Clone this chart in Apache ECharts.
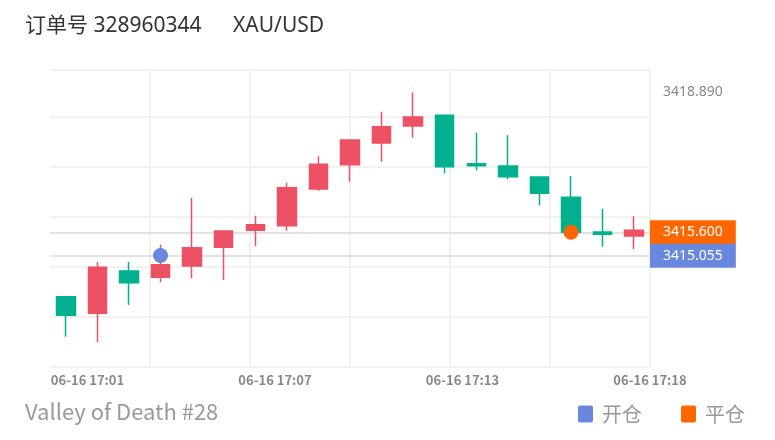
<!DOCTYPE html>
<html><head><meta charset="utf-8">
<script src="https://cdn.jsdelivr.net/npm/echarts/dist/echarts.min.js"></script>
<style>html,body{margin:0;padding:0;background:#fff}#c{width:775px;height:440px}</style>
</head><body><div id="c"></div>
<script>
// ---- data ----
const candleTimes = ['17:00','17:01','17:02','17:03','17:04','17:05','17:06','17:07','17:08','17:09','17:10','17:11','17:12','17:13','17:14','17:15','17:16','17:17','17:18'];
const opens  = [3414.085,3413.694,3414.689,3414.541,3414.807,3415.247,3415.647,3415.755,3416.619,3417.191,3417.701,3418.101,3418.353,3417.214,3417.160,3416.901,3416.424,3415.607,3415.513];
const closes = [3413.647,3414.776,3414.414,3414.838,3415.238,3415.631,3415.779,3416.649,3417.200,3417.772,3418.085,3418.313,3417.144,3417.167,3416.908,3416.518,3415.600,3415.553,3415.647];
const lows   = [3413.144,3413.012,3413.889,3414.424,3414.518,3414.478,3415.278,3415.638,3416.579,3416.791,3417.261,3417.826,3416.988,3417.059,3416.847,3416.235,3415.590,3415.261,3415.200];
const highs  = [3414.090,3414.901,3414.901,3415.308,3416.414,3415.640,3415.991,3416.767,3417.388,3417.780,3418.438,3418.890,3418.370,3417.944,3417.882,3416.910,3416.925,3416.148,3415.976];
const xTickLabels = ['','06-16 17:01','','','','','06-16 17:07','','','','','06-16 17:13','','','','','06-16 17:18'];
const openTrade  = { time: '17:03', price: 3415.055 };
const closeTrade = { time: '17:16', price: 3415.600 };
const orderTitle = '订单号 328960344';
const symbolName = 'XAU/USD';
const footerText = 'Valley of Death #28';
const legendNames = ['开仓', '平仓'];
const yMin = 3412.431, yMax = 3419.419;

// ---- styles ----
const UP = '#ec5263', DOWN = '#00b08e', BLUE = '#6a87df', ORANGE = '#ff6600';
const FONT_CJK = '"Noto Sans CJK SC", "Noto Sans", sans-serif';
const FONT_LAT = '"Noto Sans", "Noto Sans CJK SC", sans-serif';
const GRID_C = '#f1f1f1';
const CLEAR = 'rgba(255,255,255,0)';
const maxHigh = Math.max(...highs);
const ICON = 'path://M2,0 L13,0 Q15,0 15,2 L15,15 Q15,17 13,17 L2,17 Q0,17 0,15 L0,2 Q0,0 2,0 Z';

const chart = echarts.init(document.getElementById('c'), null, {renderer: 'canvas'});
const candleData = candleTimes.map((t, i) => [opens[i], closes[i], lows[i], highs[i]]);

const priceLabel = (bg, value, color) => ({
  show: true, position: 'end', distance: 0,
  formatter: () => value.toFixed(3),
  color: color || '#fff', fontSize: 14, fontFamily: FONT_LAT, lineHeight: 15,
  padding: [5, 13, 4, 13], backgroundColor: bg
});

chart.setOption({
  animation: false,
  backgroundColor: '#fff',
  textStyle: { fontFamily: FONT_CJK },
  title: [
    { text: orderTitle, left: 25, top: 16, padding: 0, textStyle: { fontSize: 21, color: '#333', fontWeight: 'normal', fontFamily: FONT_LAT } },
    { text: symbolName, left: 233, top: 16, padding: 0, textStyle: { fontSize: 21, color: '#333', fontWeight: 'normal', fontFamily: FONT_LAT } },
    { text: footerText, left: 25, top: 401, padding: 0, textStyle: { fontSize: 22, color: '#999', fontWeight: 'normal', fontFamily: FONT_CJK } }
  ],
  legend: {
    data: legendNames.map(n => ({ name: n, icon: ICON })), right: 30, top: 404,
    itemWidth: 15, itemHeight: 17, itemGap: 39, padding: 0,
    textStyle: { fontSize: 20, color: '#999', fontFamily: FONT_CJK, padding: [0, 0, 0, 4] }
  },
  grid: { left: 50, right: 125, top: 70, bottom: 73 },
  xAxis: [
    { type: 'category', data: candleTimes, boundaryGap: true,
      axisLine: { show: false, onZero: false }, axisTick: { show: false }, axisLabel: { show: false }, splitLine: { show: false } },
    { type: 'value', min: 0, max: 6, interval: 1,
      axisLine: { show: false, onZero: false }, axisTick: { show: false }, axisLabel: { show: false },
      splitLine: { show: true, lineStyle: { color: [CLEAR, GRID_C, GRID_C, GRID_C, GRID_C, GRID_C, GRID_C], width: 2 } } },
    { type: 'category', data: xTickLabels, boundaryGap: false, position: 'bottom',
      axisLine: { show: false, onZero: false }, axisTick: { show: false }, splitLine: { show: false },
      axisLabel: { show: true, interval: 0, margin: 7, color: '#888', fontSize: 13, fontWeight: 'bold', fontFamily: FONT_CJK } }
  ],
  yAxis: [
    { type: 'value', min: yMin, max: yMax, position: 'right',
      axisLine: { show: false }, axisTick: { show: false }, axisLabel: { show: false }, splitLine: { show: false } },
    { type: 'value', min: 0, max: 5.94, interval: 1, position: 'left',
      axisLine: { show: false }, axisTick: { show: false }, axisLabel: { show: false },
      splitLine: { show: true, lineStyle: { color: GRID_C, width: 2 } } }
  ],
  series: [
    {
      type: 'candlestick', xAxisIndex: 0, yAxisIndex: 0, data: candleData, barWidth: 19, z: 3,
      itemStyle: { color: UP, color0: DOWN, borderColor: UP, borderColor0: DOWN, borderWidth: 1.5 },
      markLine: {
        silent: true, symbol: 'none', animation: false, z: 1,
        lineStyle: { color: '#e2e2e2', width: 2, type: 'solid' },
        data: [
          { yAxis: closeTrade.price, label: priceLabel(ORANGE, closeTrade.price) },
          { yAxis: openTrade.price, label: priceLabel(BLUE, openTrade.price) },
          { yAxis: maxHigh, lineStyle: { color: CLEAR }, label: priceLabel(CLEAR, maxHigh, '#888') }
        ]
      }
    },
    {
      name: legendNames[0], type: 'scatter', xAxisIndex: 0, yAxisIndex: 0, z: 5,
      symbol: 'circle', symbolSize: 15, itemStyle: { color: BLUE, opacity: 1 },
      data: [[openTrade.time, openTrade.price]]
    },
    {
      name: legendNames[1], type: 'scatter', xAxisIndex: 0, yAxisIndex: 0, z: 5,
      symbol: 'circle', symbolSize: 15, itemStyle: { color: ORANGE, opacity: 1 },
      data: [[closeTrade.time, closeTrade.price]]
    }
  ]
});
</script></body></html>
